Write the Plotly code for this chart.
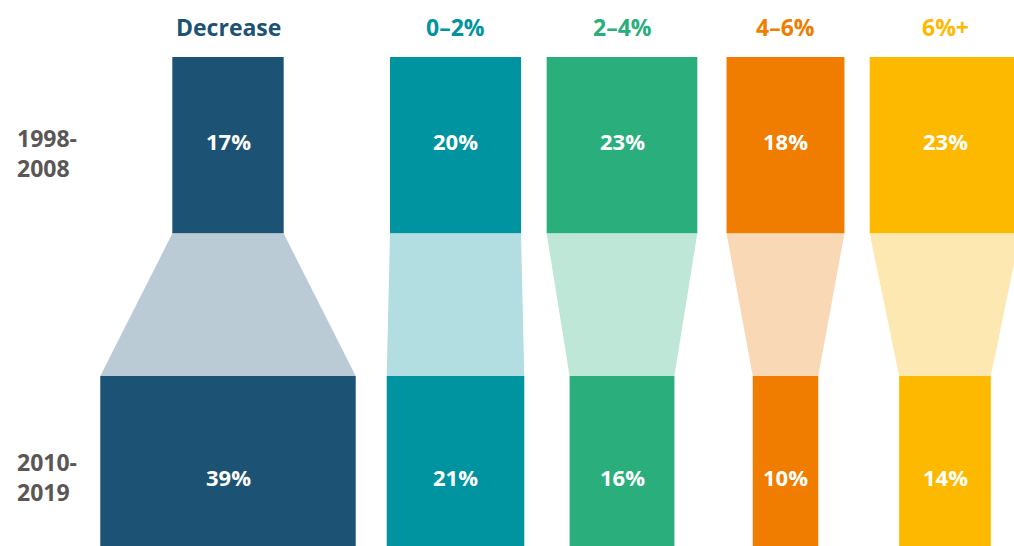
import plotly.graph_objects as go

# ---------------------------------------------------------------------------
# Datos
# ---------------------------------------------------------------------------
categorias = ["Decrease", "0–2%", "2–4%", "4–6%", "6%+"]
periodo_1 = [17, 20, 23, 18, 23]   # 1998-2008
periodo_2 = [39, 21, 16, 10, 14]   # 2010-2019
periodos = ["1998-<br>2008", "2010-<br>2019"]

colores = ["#1C5273", "#0093A0", "#29AE7C", "#F07D00", "#FDB900"]
colores_claros = ["#BBCBD6", "#B2DEE2", "#BEE7D8", "#F9D8B5", "#FDE8B2"]

# ---------------------------------------------------------------------------
# Layout (coordenadas en píxeles, eje y invertido)
# ---------------------------------------------------------------------------
centros = [228, 455.5, 622, 785.5, 945]
px_por_pct = 6.55
y1_top, y1_bot = 57, 233.5
y2_top, y2_bot = 376, 586

FONT = "Open Sans"

fig = go.Figure()

# Conectores (trapecios)
for cx, a, b, c in zip(centros, periodo_1, periodo_2, colores_claros):
    w1 = a * px_por_pct / 2
    w2 = b * px_por_pct / 2
    fig.add_trace(go.Scatter(
        x=[cx - w1, cx + w1, cx + w2, cx - w2, cx - w1],
        y=[y1_bot, y1_bot, y2_top, y2_top, y1_bot],
        fill="toself", fillcolor=c, mode="lines",
        line=dict(width=0), hoverinfo="skip",
    ))

# Barras superiores e inferiores
for vals, top, bot in [(periodo_1, y1_top, y1_bot), (periodo_2, y2_top, y2_bot)]:
    fig.add_trace(go.Bar(
        x=centros,
        y=[bot - top] * len(vals),
        base=[top] * len(vals),
        width=[v * px_por_pct for v in vals],
        marker=dict(color=colores, line=dict(width=0)),
        hoverinfo="skip",
    ))
    for cx, v in zip(centros, vals):
        fig.add_annotation(
            x=cx, y=(top + bot) / 2 - 4, text=f"{v}%", showarrow=False,
            font=dict(family=FONT, size=22, color="white", weight=700),
        )

# Encabezados
for cx, cat, c in zip(centros, categorias, colores):
    fig.add_annotation(
        x=cx, y=27, text=cat, showarrow=False,
        font=dict(family=FONT, size=23, color=c, weight=700),
    )

# Etiquetas de periodo
for texto, yc in zip(periodos, [153, 477]):
    fig.add_annotation(
        x=15, y=yc, text=texto, showarrow=False, xanchor="left", align="left",
        font=dict(family=FONT, size=23, color="#5A5756", weight=700),
    )

fig.update_layout(
    width=1014, height=546,
    margin=dict(l=0, r=0, t=0, b=0),
    paper_bgcolor="white", plot_bgcolor="white",
    showlegend=False, barmode="overlay",
    xaxis=dict(range=[0, 1014], visible=False, fixedrange=True),
    yaxis=dict(range=[546, 0], visible=False, fixedrange=True),
)

# quitar el margen por defecto del body y la barra de herramientas
fig.write_html(
    "out.html",
    config={"displayModeBar": False},
    post_script="document.body.style.margin='0px';",
)
